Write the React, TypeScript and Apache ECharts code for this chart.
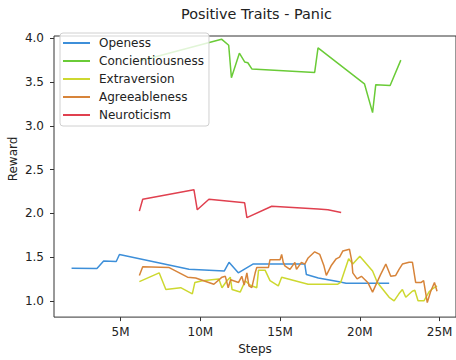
import React, { useEffect, useRef } from "react";
import * as echarts from "echarts";

// Steps in millions, reward values
const openessSteps = [1.93, 3.52, 3.94, 4.73, 4.93, 9.29, 11.5, 11.8, 12.38, 13.3, 16.55, 16.65, 17.4, 18.62, 19.14, 21.84];
const openessReward = [1.373, 1.37, 1.456, 1.45, 1.53, 1.36, 1.34, 1.44, 1.32, 1.42, 1.42, 1.3, 1.26, 1.22, 1.2, 1.2];

const conscSteps = [6.2, 11.33, 11.78, 11.95, 12.45, 12.78, 12.98, 13.23, 17.17, 17.38, 20.29, 20.8, 21.0, 21.9, 22.57];
const conscReward = [3.74, 3.99, 3.92, 3.55, 3.83, 3.73, 3.72, 3.65, 3.61, 3.89, 3.48, 3.15, 3.47, 3.46, 3.75];

const extraSteps = [6.18, 7.42, 7.84, 8.77, 9.5, 9.66, 10.12, 11.16, 11.36, 11.67, 11.88, 11.99, 12.5, 12.82, 13.1, 13.54, 13.65, 14.06, 14.37, 14.89, 15.1, 16.76, 18.62, 18.8, 19.3, 19.56, 20.0, 20.8, 21.1, 21.84, 22.15, 22.45, 22.67, 22.88, 23.29, 23.45, 23.65, 24.02, 24.33, 24.5, 24.84];
const extraReward = [1.22, 1.32, 1.13, 1.15, 1.08, 1.21, 1.23, 1.25, 1.15, 1.23, 1.27, 1.13, 1.1, 1.23, 1.18, 1.15, 1.35, 1.35, 1.23, 1.17, 1.27, 1.19, 1.19, 1.21, 1.48, 1.42, 1.51, 1.34, 1.21, 1.04, 1.0, 1.08, 1.13, 1.04, 1.11, 1.12, 1.0, 1.0, 1.1, 1.13, 1.17];

const agreeSteps = [6.18, 6.39, 8.05, 9.2, 9.71, 10.85, 11.36, 11.57, 11.75, 11.9, 12.4, 12.6, 12.75, 12.92, 13.05, 13.23, 13.44, 13.54, 14.27, 14.37, 15.0, 15.1, 15.2, 15.3, 15.62, 15.93, 16.03, 16.34, 16.55, 16.76, 17.17, 17.49, 17.75, 17.9, 18.2, 18.52, 18.73, 18.94, 19.35, 19.5, 19.56, 19.83, 20.1, 20.5, 20.8, 21.3, 21.63, 21.94, 22.25, 22.46, 22.67, 23.09, 23.3, 23.5, 23.85, 24.0, 24.23, 24.43, 24.68, 24.84];
const agreeReward = [1.29, 1.39, 1.38, 1.27, 1.26, 1.19, 1.27, 1.28, 1.15, 1.24, 1.21, 1.28, 1.18, 1.32, 1.17, 1.15, 1.32, 1.38, 1.38, 1.47, 1.47, 1.53, 1.44, 1.4, 1.36, 1.44, 1.36, 1.44, 1.42, 1.49, 1.56, 1.53, 1.4, 1.29, 1.4, 1.48, 1.5, 1.57, 1.59, 1.45, 1.32, 1.25, 1.28, 1.21, 1.1, 1.3, 1.42, 1.28, 1.29, 1.36, 1.42, 1.44, 1.44, 1.21, 1.21, 1.23, 0.98, 1.1, 1.21, 1.11];

const neuroSteps = [6.18, 6.39, 9.6, 9.81, 10.54, 12.78, 12.92, 14.48, 17.38, 18.0, 18.83];
const neuroReward = [2.025, 2.16, 2.27, 2.04, 2.16, 2.12, 1.95, 2.08, 2.05, 2.04, 2.01];

const seriesNames = ["Openess", "Concientiousness", "Extraversion", "Agreeableness", "Neuroticism"];
const seriesColors = ["#3d8fd9", "#6acb37", "#cdd830", "#d7843a", "#e0404f"];

const xTicks = [5, 10, 15, 20, 25];
const yTicks = [1.0, 1.5, 2.0, 2.5, 3.0, 3.5, 4.0];

const zip = (xs: number[], ys: number[]) => xs.map((x, i) => [x, ys[i]]);

const FONT = "DejaVu Sans";

export default function App() {
  const ref = useRef<HTMLDivElement>(null);
  useEffect(() => {
    if (!ref.current) return;
    const chart = echarts.init(ref.current, undefined, { renderer: "svg" });
    const data = [
      zip(openessSteps, openessReward),
      zip(conscSteps, conscReward),
      zip(extraSteps, extraReward),
      zip(agreeSteps, agreeReward),
      zip(neuroSteps, neuroReward),
    ];
    chart.setOption({
      animation: false,
      backgroundColor: "#ffffff",
      title: {
        text: "Positive Traits - Panic",
        left: 176,
        top: 2,
        textStyle: { fontFamily: FONT, fontSize: 14.4, fontWeight: "normal", color: "#222" },
      },
      grid: {
        left: 54,
        right: -3,
        top: 36,
        bottom: 42,
        show: true,
        borderColor: "#333",
        borderWidth: 1,
        backgroundColor: "transparent",
      },
      legend: {
        orient: "vertical",
        left: 60,
        top: 33,
        padding: [4, 5, 5, 3],
        icon: "rect",
        itemWidth: 27,
        itemHeight: 2,
        itemGap: 6,
        backgroundColor: "rgba(255,255,255,0.8)",
        borderColor: "#d0d0d0",
        borderWidth: 1,
        borderRadius: 3,
        textStyle: { fontFamily: FONT, fontSize: 12, color: "#222", padding: [0, 0, 0, 4] },
        data: seriesNames,
      },
      xAxis: {
        type: "value",
        min: 0.828,
        max: 26.03,
        axisLine: { show: false },
        splitLine: { show: false },
        axisTick: { show: true, length: 4, lineStyle: { color: "#333" }, customValues: xTicks },
        axisLabel: {
          fontFamily: FONT,
          fontSize: 12,
          color: "#222",
          margin: 9,
          customValues: xTicks,
          formatter: (v: number) => `${Math.round(v)}M`,
        },
        name: "Steps",
        nameLocation: "middle",
        nameGap: 23,
        nameTextStyle: { fontFamily: FONT, fontSize: 12, color: "#222" },
      },
      yAxis: {
        type: "value",
        min: 0.814,
        max: 4.026,
        axisLine: { show: false },
        splitLine: { show: false },
        axisTick: { show: true, length: 4, lineStyle: { color: "#333" }, customValues: yTicks },
        axisLabel: {
          fontFamily: FONT,
          fontSize: 12,
          color: "#222",
          margin: 10,
          customValues: yTicks,
          formatter: (v: number) => v.toFixed(1),
        },
      },
      graphic: [
        {
          type: "text",
          x: 13,
          y: 159,
          rotation: Math.PI / 2,
          style: {
            text: "Reward",
            fontFamily: FONT,
            fontSize: 12,
            fill: "#222",
            align: "center",
            verticalAlign: "middle",
          },
        },
      ],
      series: seriesNames.map((name, i) => ({
        name,
        type: "line",
        data: data[i],
        symbol: "none",
        lineStyle: { width: 1.5, color: seriesColors[i] },
        itemStyle: { color: seriesColors[i] },
      })),
    });
    return () => chart.dispose();
  }, []);
  return (
    <div
      ref={ref}
      style={{ position: "fixed", left: 0, top: 0, width: 456, height: 360 }}
    />
  );
}
